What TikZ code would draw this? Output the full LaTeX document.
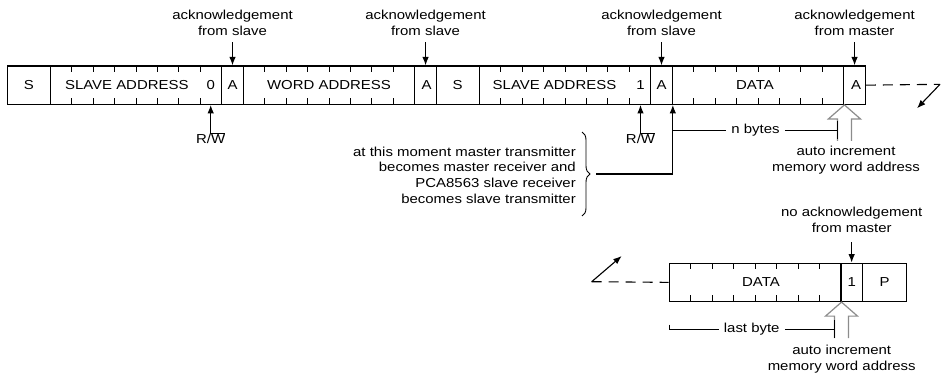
\documentclass[tikz,border=0pt]{standalone}
\usepackage{fontspec}
\setmainfont{Liberation Sans}[FakeStretch=1.15]
\usetikzlibrary{arrows.meta,decorations.pathreplacing}
\newcommand{\byteticks}[3]{%
  \foreach \k in {1,...,7}{%
    \draw[tick] ({#1+\k*21.45},#2) -- ++(0,6) ({#1+\k*21.45},#3) -- ++(0,-6.5);}}
\begin{document}
\begin{tikzpicture}[x=1pt,y=-1pt,
  every node/.style={font=\fontsize{13}{16}\selectfont, inner sep=0pt},
  cell/.style={draw, line width=1.2pt, minimum height=38.3pt, inner sep=0pt},
  tick/.style={line width=1pt},
  sarrow/.style={-{Latex[length=8.5pt,width=6.5pt]}, line width=1.1pt},
  hollow/.style={draw=black!45, line width=1.2pt, fill=white},
  dline/.style={line width=1.1pt, dash pattern=on 10pt off 7pt},
  lab/.style={align=center},
  span/.style={inner xsep=5pt},
  thinline/.style={line width=1pt}
]
\useasboundingbox (0,0) rectangle (941,373);

% ---------- top row ----------
\node[cell, minimum width=42.9pt] (S1)  at (28.75,85.15) {};
\node[cell, minimum width=171.6pt] (SA1) at (136,85.15) {};
\node[cell, minimum width=21.4pt] (A1)  at (232.5,85.15) {};
\node[cell, minimum width=171.6pt] (WA)  at (329,85.15) {};
\node[cell, minimum width=21.5pt] (A2)  at (425.55,85.15) {};
\node[cell, minimum width=42.9pt] (S2)  at (457.75,85.15) {};
\node[cell, minimum width=171.6pt] (SA2) at (565,85.15) {};
\node[cell, minimum width=21.4pt] (A3)  at (661.5,85.15) {};
\node[cell, minimum width=171.6pt] (D1)  at (758,85.15) {};
\node[cell, minimum width=21.5pt] (A4)  at (854.55,85.15) {};

\byteticks{50.2}{66}{104.3}
\byteticks{243.2}{66}{104.3}
\byteticks{479.2}{66}{104.3}
\byteticks{672.2}{66}{104.3}

\node (tS1) at (28.75,85.15) {S};
\node (tSA1) at (126.8,85.15) {SLAVE ADDRESS};
\node (b0) at (210.7,85.15) {0};
\node (tA1) at (232.6,85.15) {A};
\node (tWA) at (329,85.15) {WORD ADDRESS};
\node (tA2) at (426.5,85.15) {A};
\node (tS2) at (457.5,85.15) {S};
\node (tSA2) at (554.5,85.15) {SLAVE ADDRESS};
\node (b1) at (640.5,85.15) {1};
\node (tA3) at (661.7,85.15) {A};
\node (tD1) at (755,85.15) {DATA};
\node (tA4) at (856,85.15) {A};

% acknowledgement labels
\node[lab] (k1) at (232.5,23) {acknowledgement\\from slave};
\node[lab] (k2) at (425.5,23) {acknowledgement\\from slave};
\node[lab] (k3) at (661.5,23) {acknowledgement\\from slave};
\node[lab] (k4) at (854.5,23) {acknowledgement\\from master};
\draw[sarrow] (A1.north |- 0,42) -- (A1.north);
\draw[sarrow] (A2.north |- 0,42) -- (A2.north);
\draw[sarrow] (A3.north |- 0,42) -- (A3.north);
\draw[sarrow] (A4.north |- 0,42) -- (A4.north);

% R/W
\node (rw1) at (210.7,138) {R/\ensuremath{\overline{\mbox{W}}}};
\node (rw2) at (640.5,138) {R/\ensuremath{\overline{\mbox{W}}}};
\draw[sarrow] ([yshift=-2pt]rw1.north) -- (b0 |- SA1.south);
\draw[sarrow] ([yshift=-2pt]rw2.north) -- (b1 |- SA2.south);

% continuation
\coordinate (c1) at (940,84.3);
\coordinate (c1t) at (917,108.3);
\draw[dline] (A4.east) -- (c1);
\draw[sarrow] (c1) -- (c1t);

% brace and note
\node[align=right, anchor=east, font=\fontsize{13}{15.6}\selectfont] (note) at (576,175)
  {at this moment master transmitter\\becomes master receiver and\\PCA8563 slave receiver\\becomes slave transmitter};
\draw[line width=0.9pt, decorate, decoration={brace, amplitude=8pt}] (582,132) -- (582,216);
\coordinate (bt) at (596,174);
\draw[sarrow] (bt) -- (A3.south east |- bt) -- (A3.south east);

% n bytes
\node[span] (nb) at (755.5,130) {n bytes};
\coordinate (nbr) at (837,130);
\draw[hollow] ([shift={(-7,36)}]D1.south east) -- ++(0,-22) -- ++(-9,0) -- (D1.south east) -- ++(16,14) -- ++(-9,0) -- ++(0,22);
\draw[thinline] (A3.south east |- nb) -- (nb.west);
\draw[thinline] (nb.east) -- (nbr);
\draw[thinline] ([yshift=9pt]nbr) -- ([yshift=-9pt]nbr);
\node[lab] (ai1) at (846,160) {auto increment\\memory word address};

% ---------- bottom row ----------
\node[cell, minimum width=171.6pt] (D2) at (755.1,282.35) {};
\node[cell, minimum width=21.5pt] (B1) at (851.65,282.35) {};
\node[cell, minimum width=44.2pt] (P) at (884.5,282.35) {};
\byteticks{669.3}{263}{301.7}
\node (tD2) at (761,282.35) {DATA};
\node (tB1) at (851.7,282.35) {1};
\node (tP) at (884.5,282.35) {P};

\node[lab] (k5) at (851.7,220) {no acknowledgement\\from master};
\draw[sarrow] (B1.north |- 0,242) -- (B1.north);

\coordinate (c2) at (591.7,281.7);
\coordinate (c2t) at (621.7,256);
\draw[dline] (c2) -- (D2.west);
\draw[sarrow] (c2) -- (c2t);

\node[span] (lb) at (751.7,329) {last byte};
\coordinate (lbl) at (669.3,329);
\coordinate (lbr) at (834,329);
\draw[hollow] ([shift={(-7,36)}]D2.south east) -- ++(0,-22) -- ++(-9,0) -- (D2.south east) -- ++(16,14) -- ++(-9,0) -- ++(0,22);
\draw[thinline] ([yshift=4.5pt]lbl) -- (lbl) -- (lb.west);
\draw[thinline] (lb.east) -- (lbr);
\draw[thinline] ([yshift=9pt]lbr) -- ([yshift=-9pt]lbr);
\node[lab] (ai2) at (841.7,359) {auto increment\\memory word address};
\end{tikzpicture}
\end{document}
